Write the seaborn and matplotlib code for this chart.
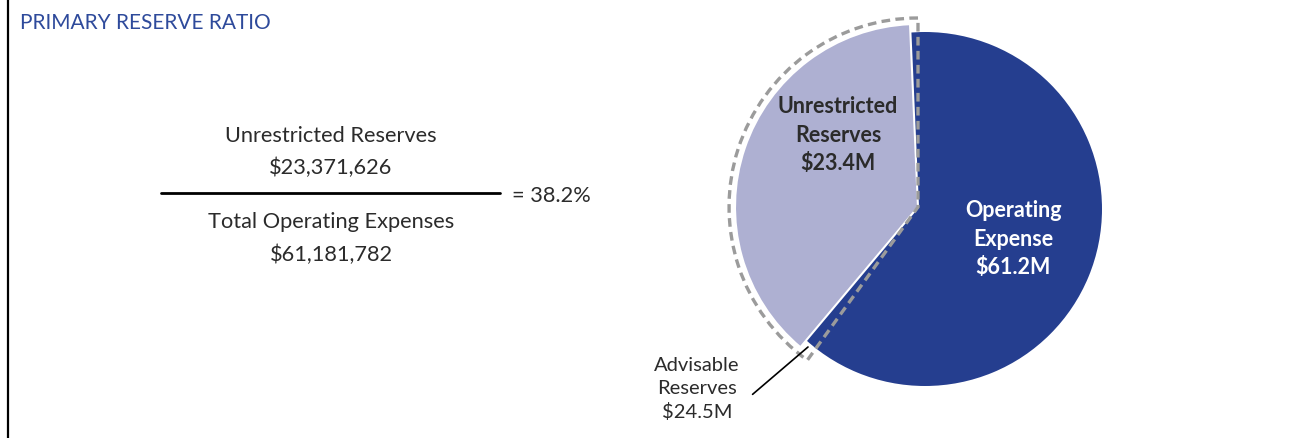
import matplotlib
matplotlib.use("Agg")
import matplotlib.pyplot as plt
import seaborn as sns

# values (millions / dollars)
slice_labels = ["Unrestricted\nReserves\n$23.4M", "Operating\nExpense\n$61.2M"]
unrestricted = 23.371626
op_expense = 61.181782
advisable = 24.5
advisable_label = "Advisable\nReserves\n$24.5M"
numerator = ["Unrestricted Reserves", "$23,371,626"]
denominator = ["Total Operating Expenses", "$61,181,782"]
ratio_label = "= 38.2%"
title = "PRIMARY RESERVE RATIO"

sns.set_theme(style="white")
plt.rcParams['font.family'] = ['Lato', 'DejaVu Sans']

dark, light = sns.color_palette(["#253e8f", "#aeb0d2"])
dash_grey = "#9b9b9b"
title_blue = "#2e4a9b"
text_grey = "#2b2b2b"

W, H = 1316, 439
fig = plt.figure(figsize=(W / 100, H / 100), dpi=100)
ax = fig.add_axes([0, 0, 1, 1])

# full operating expense circle
ax.pie([op_expense], colors=[dark], center=(925, H - 210), radius=177,
       startangle=90, wedgeprops=dict(linewidth=0))

# unrestricted reserves share, pulled slightly out
light_w, _ = ax.pie([unrestricted, op_expense - unrestricted], colors=[light, dark],
                    center=(918, H - 208), radius=183, startangle=92.5,
                    wedgeprops=dict(linewidth=1.5, edgecolor="white"))
light_w[1].set_visible(False)

# advisable reserves outline
adv_w, _ = ax.pie([advisable, op_expense - advisable], colors=["none", "none"],
                  center=(918, H - 208), radius=189, startangle=90,
                  wedgeprops=dict(fill=False, linewidth=2.4, edgecolor=dash_grey))
adv_w[0].set_linestyle((0, (2.6, 1.6)))
adv_w[1].set_visible(False)

ax.set_xlim(0, W)
ax.set_ylim(0, H)
ax.set_aspect("auto")
ax.axis("off")

# slice labels
ax.text(838, H - 135, slice_labels[0], ha="center", va="center", fontsize=15.5,
        fontweight="bold", color=text_grey, linespacing=1.45)
ax.text(1013, H - 239, slice_labels[1], ha="center", va="center", fontsize=15.5,
        fontweight="bold", color="white", linespacing=1.42)

# advisable callout
ax.annotate(advisable_label, xy=(808, H - 348), xytext=(697, H - 389),
            ha="center", va="center", fontsize=14.5, color=text_grey,
            linespacing=1.4,
            arrowprops=dict(arrowstyle="-", color="black", lw=1.2,
                            shrinkA=0, shrinkB=0, relpos=(1.15, 0.4)))

# fraction on the left
fs = 15.7
ax.text(331, H - 136, numerator[0], ha="center", va="center", fontsize=fs, color=text_grey)
ax.text(331, H - 168, numerator[1], ha="center", va="center", fontsize=fs, color=text_grey)
ax.plot([161, 500], [H - 194, H - 194], color="black", lw=2)
ax.text(512, H - 196, ratio_label, ha="left", va="center", fontsize=fs, color=text_grey)
ax.text(331, H - 222, denominator[0], ha="center", va="center", fontsize=fs, color=text_grey)
ax.text(331, H - 255, denominator[1], ha="center", va="center", fontsize=fs, color=text_grey)

# title and left rule
ax.text(20, H - 23, title, ha="left", va="center", fontsize=15, color=title_blue)
ax.plot([8, 8], [0, H], color="black", lw=1.6)

fig.savefig("out.png", dpi=100)
